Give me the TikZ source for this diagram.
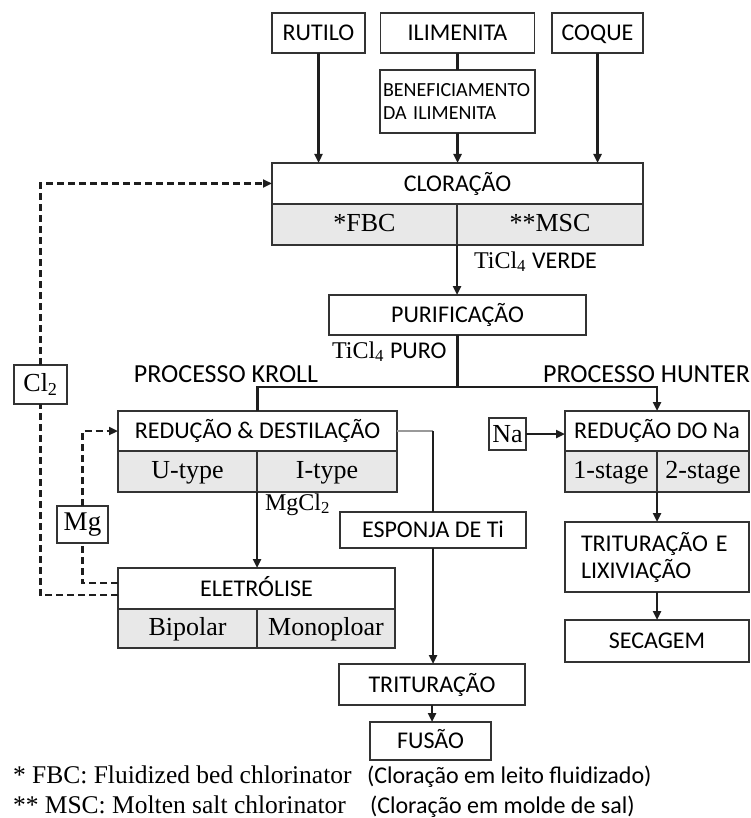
\documentclass[tikz,border=0pt]{standalone}
\usepackage{fontspec}
\setmainfont{Liberation Serif}
\newfontfamily\lab{Carlito}
\usetikzlibrary{arrows.meta}
\definecolor{cellgray}{HTML}{E8E8E8}
\definecolor{ink}{HTML}{1E1E1E}
\definecolor{frame}{HTML}{333333}
\tikzset{
  boxbase/.style={draw=frame, line width=1.3pt, inner sep=0pt, outer sep=0pt, fill=white,
              font=\lab\fontsize{24}{27}\selectfont},
  box/.style={boxbase, text height=15.5pt, text depth=0pt},
  cell/.style={boxbase, fill=cellgray, font=\fontsize{26}{28}\selectfont,
               text height=17pt, text depth=4pt},
  tag/.style={boxbase, font=\fontsize{26}{28}\selectfont},
  txt/.style={inner sep=0pt, outer sep=0pt},
  flow/.style={draw=ink, line width=2.5pt, -{Triangle[length=9pt,width=8pt]}},
  link/.style={draw=ink, line width=2.5pt},
  feed/.style={draw=ink, line width=2.5pt, dash pattern=on 7pt off 4pt},
  feedin/.style={feed, -{Triangle[length=9pt,width=8pt]}},
}
\begin{document}
\begin{tikzpicture}[x=1pt,y=-1pt]
\useasboundingbox (0,0) rectangle (751,818);

% raw materials
\node[box, minimum width=93pt,  minimum height=40pt] (rutilo) at (318.5,33) {RUTILO};
\node[box, minimum width=154pt, minimum height=40pt] (ilmen)  at (457.5,33) {ILIMENITA};
\node[box, minimum width=91pt,  minimum height=40pt] (coque)  at (597.5,33) {COQUE};
\node[boxbase, minimum width=155pt, minimum height=63pt, text width=149pt, align=left,
      font=\lab\fontsize{20}{23}\selectfont] (benef) at (457.5,101.5)
      {BENEFICIAMENTO\\DA ILIMENITA};

% chlorination
\node[box,  minimum width=371pt, minimum height=41pt] (clor) at (457.5,183.5) {CLORAÇÃO};
\node[cell, minimum width=185pt, minimum height=41pt] (fbc)  at (364.5,224.5) {*FBC};
\node[cell, minimum width=186pt, minimum height=41pt] (msc)  at (550,224.5) {**MSC};

\node[box, minimum width=257pt, minimum height=40pt] (purif) at (457.5,315) {PURIFICAÇÃO};

% Kroll route
\node[box,  minimum width=279pt, minimum height=40pt] (redd)  at (257.5,431) {REDUÇÃO \& DESTILAÇÃO};
\node[cell, minimum width=139pt, minimum height=41pt] (utype) at (187.5,471.5) {U-type};
\node[cell, minimum width=140pt, minimum height=41pt] (itype) at (327,471.5) {I-type};

\node[box,  minimum width=277pt, minimum height=41pt] (eletr) at (256.5,588.5) {ELETRÓLISE};
\node[cell, minimum width=139pt, minimum height=39pt] (bipol) at (187.5,628.5) {Bipolar};
\node[cell, minimum width=138pt, minimum height=39pt] (monop) at (326,628.5) {Monoploar};

\node[box, minimum width=186pt, minimum height=36pt] (espon)  at (433,530) {ESPONJA DE Ti};
\node[box, minimum width=186pt, minimum height=41pt] (tritur) at (432,684.5) {TRITURAÇÃO};
\node[box, minimum width=121pt, minimum height=38pt] (fusao)  at (430.5,741) {FUSÃO};

% Hunter route
\node[box,  minimum width=184pt, minimum height=40pt] (redna) at (657,431) {REDUÇÃO DO Na};
\node[cell, minimum width=92pt,  minimum height=41pt] (st1)   at (611,471.5) {1-stage};
\node[cell, minimum width=92pt,  minimum height=41pt] (st2)   at (703,471.5) {2-stage};
\node[boxbase, minimum width=184pt, minimum height=70pt, text width=152pt, align=left] (trlix)
      at (657,557) {TRITURAÇÃO E\\LIXIVIAÇÃO};
\node[box, minimum width=184pt, minimum height=42pt] (secag) at (657,641) {SECAGEM};

% reagent tags
\node[tag, minimum width=37pt, minimum height=32pt] (na)  at (507.5,434) {Na};
\node[tag, minimum width=53pt, minimum height=39pt] (cl2) at (40.5,384.5) {Cl\textsubscript{2}};
\node[tag, minimum width=51pt, minimum height=37pt, font=\fontsize{27}{28}\selectfont] (mg) at (82.5,524.5) {Mg};

% stream labels
\node[txt, anchor=base west] (verde) at (474,268)
     {\fontsize{24}{26}\selectfont TiCl\textsubscript{4} \lab\fontsize{24}{26}\selectfont VERDE};
\node[txt, anchor=base west] (puro) at (332,358)
     {\fontsize{24}{26}\selectfont TiCl\textsubscript{4} \lab\fontsize{24}{26}\selectfont PURO};
\node[txt, anchor=base west, font=\fontsize{24}{26}\selectfont] (mgcl) at (265,510) {MgCl\textsubscript{2}};
\node[txt, font=\lab\fontsize{26}{28}\selectfont] (kroll)  at (226,374) {PROCESSO KROLL};
\node[txt, anchor=east, font=\lab\fontsize{26}{28}\selectfont] (hunter) at (750,374) {PROCESSO HUNTER};

% footnotes
\node[txt, anchor=base west, font=\fontsize{25.5}{28}\selectfont] (fn1) at (13,783) {* FBC: Fluidized bed chlorinator};
\node[txt, anchor=base west, font=\lab\fontsize{24}{28}\selectfont] (fn1b) at (367,783) {(Cloração em leito fluidizado)};
\node[txt, anchor=base west, font=\fontsize{25.5}{28}\selectfont] (fn2) at (13,813) {** MSC: Molten salt chlorinator};
\node[txt, anchor=base west, font=\lab\fontsize{24}{28}\selectfont] (fn2b) at (370,813) {(Cloração em molde de sal)};

% feeds into chlorination
\draw[flow] (rutilo.south) -- (rutilo.south |- clor.north);
\draw[link] (ilmen.south) -- (benef.north);
\draw[flow] (benef.south) -- (benef.south |- clor.north);
\draw[flow] (coque.south) -- (coque.south |- clor.north);

% main line
\draw[flow] (msc.south west) -- (msc.south west |- purif.north);
\coordinate (fork) at (457.5,387);
\draw[link] (purif.south) -- (fork);
\draw[link] (fork) -| (redd.north);
\draw[flow] (fork) -| (redna.north);

% Kroll
\coordinate (bend) at (espon.north |- redd.east);
\draw[draw=gray!80, line width=2.2pt] (redd.east) -- (bend);
\draw[link] (bend) -- (espon.north);
\draw[flow] (espon.south) -- (espon.south |- tritur.north);
\draw[flow] (tritur.south) -- (tritur.south |- fusao.north);
\draw[flow] (utype.south east) -- (utype.south east |- eletr.north);

% recycle loops
\draw[feed] ([yshift=-6.5pt]eletr.west) -| (cl2.south);
\draw[feedin] (cl2.north) |- (clor.west);
\draw[feed] ([yshift=5.5pt]eletr.west) -| (mg.south);
\draw[feedin] (mg.north) |- (redd.west);

% Hunter
\draw[flow] (na.east) -- (na.east -| redna.west);
\draw[flow] (st1.south east) -- (st1.south east |- trlix.north);
\draw[flow] (trlix.south) -- (secag.north);
\end{tikzpicture}
\end{document}
